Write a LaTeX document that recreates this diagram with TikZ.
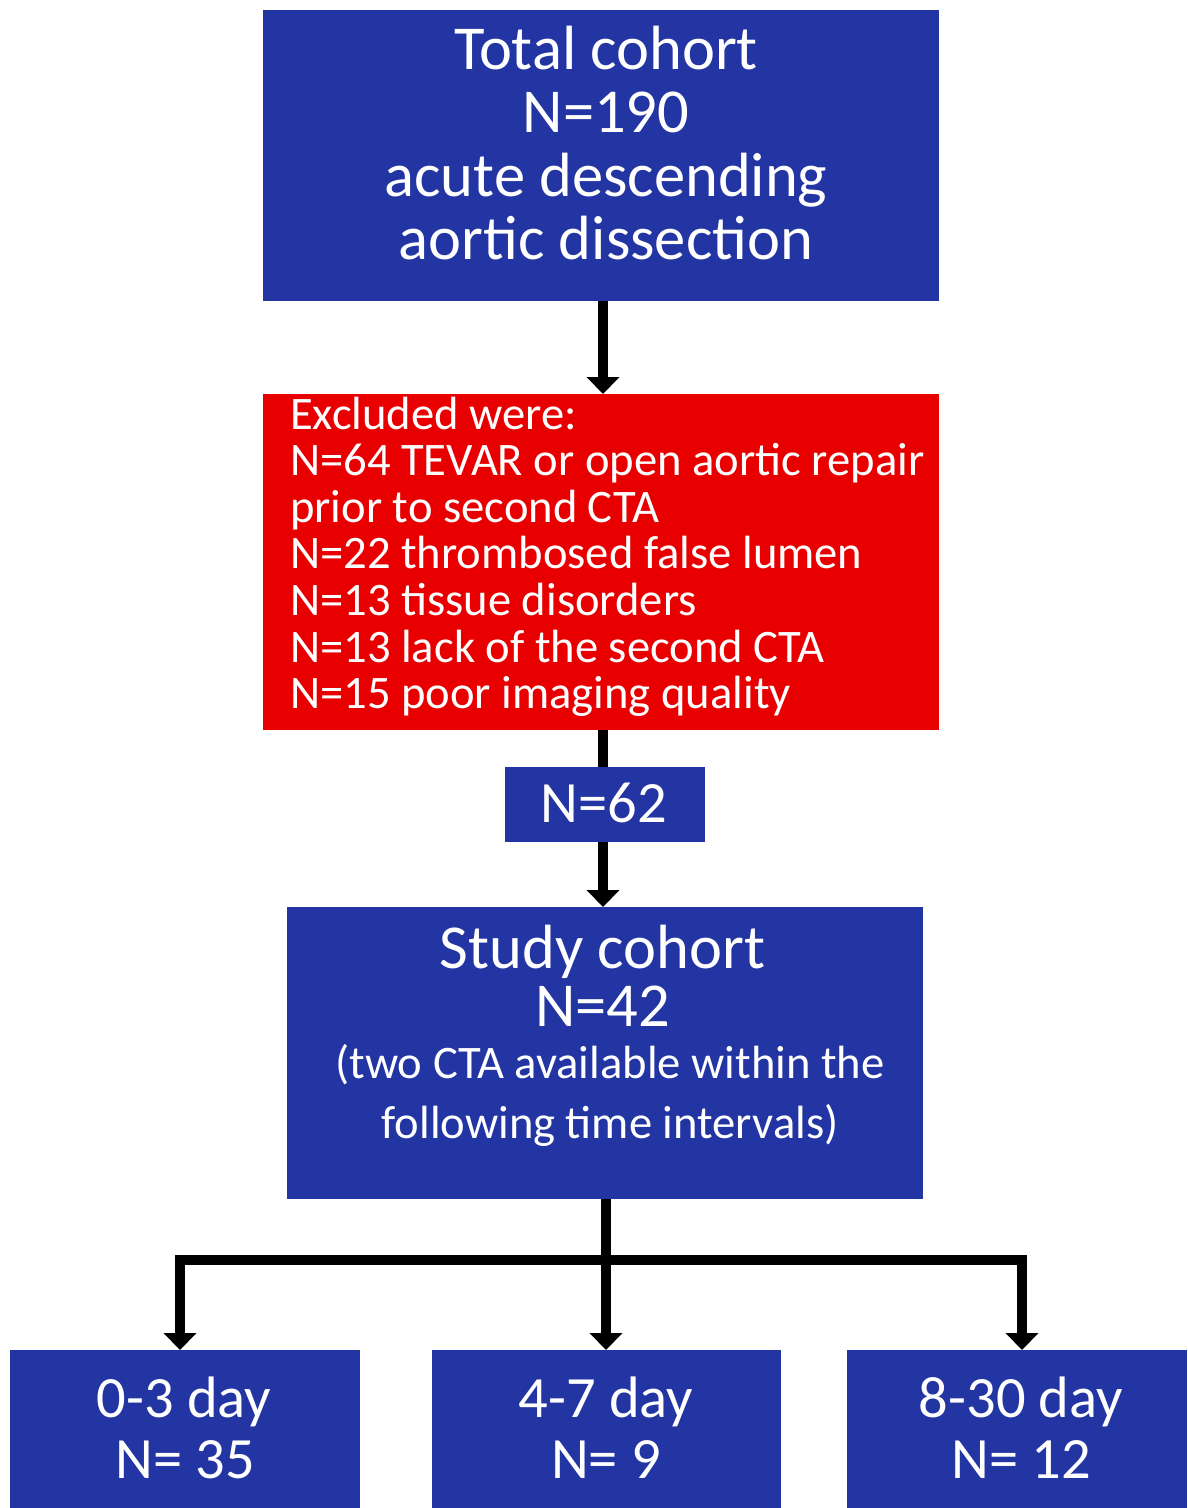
\documentclass[tikz,border=0pt]{standalone}
\usepackage{fontspec}
\setmainfont{Carlito}
\usetikzlibrary{arrows.meta}
\definecolor{cblue}{RGB}{35,53,163}
\definecolor{cred}{RGB}{232,0,0}
\tikzset{
  box/.style={fill=cblue, draw=none, inner sep=0pt, outer sep=0pt},
  redbox/.style={fill=cred, draw=none, inner sep=0pt, outer sep=0pt},
  big/.style={font=\fontsize{62.5}{63}\selectfont, text=white, inner sep=0pt},
  mid/.style={font=\fontsize{58.5}{60}\selectfont, text=white, inner sep=0pt},
  small/.style={font=\fontsize{46.6}{47}\selectfont, text=white, inner sep=0pt},
  conn/.style={line width=10pt, draw=black},
  tipd/.style={-{Triangle[width=32pt,length=17pt]}},
}
\begin{document}
\begin{tikzpicture}[x=1pt,y=-1pt]
\useasboundingbox (0,0) rectangle (1188,1508);
% boxes
\node[box, minimum width=676pt, minimum height=291pt] (total) at (601,155.5) {};
\node[redbox, minimum width=676pt, minimum height=336pt] (excl) at (601,562) {};
\node[box, minimum width=200pt, minimum height=75pt] (n62) at (605,804.5) {};
\node[box, minimum width=636pt, minimum height=292pt] (study) at (605,1053) {};
\node[box, minimum width=350pt, minimum height=158pt] (b1) at (185,1429) {};
\node[box, minimum width=349pt, minimum height=158pt] (b2) at (606.5,1429) {};
\node[box, minimum width=340pt, minimum height=158pt] (b3) at (1017,1429) {};
% texts
\node[big, anchor=base] (t1) at (606,69) {Total cohort};
\node[big, anchor=base] (t2) at (606,132) {N=190};
\node[big, anchor=base] (t3) at (606,196) {acute descending};
\node[big, anchor=base] (t4) at (606,259) {aortic dissection};
\node[small, anchor=base west] (e1) at (290,429) {Excluded were:};
\node[small, anchor=base west] (e2) at (290,475.6) {N=64 TEVAR or open aortic repair};
\node[small, anchor=base west] (e3) at (290,522.2) {prior to second CTA};
\node[small, anchor=base west] (e4) at (290,568.8) {N=22 thrombosed false lumen};
\node[small, anchor=base west] (e5) at (290,615.4) {N=13 tissue disorders};
\node[small, anchor=base west] (e6) at (290,662) {N=13 lack of the second CTA};
\node[small, anchor=base west] (e7) at (290,708.6) {N=15 poor imaging quality};
\node[mid, anchor=base] (n62t) at (604,822) {N=62};
\node[big, anchor=base] (s1) at (602.5,968) {Study cohort};
\node[big, anchor=base] (s2) at (602.5,1026) {N=42};
\node[small, anchor=base] (s3) at (610,1078) {(two CTA available within the};
\node[small, anchor=base] (s4) at (610,1138) {following time intervals)};
\node[mid, anchor=base] (b1a) at (184,1417) {0-3 day};
\node[mid, anchor=base] (b1b) at (185,1478) {N= 35};
\node[mid, anchor=base] (b2a) at (606,1417) {4-7 day};
\node[mid, anchor=base] (b2b) at (606,1478) {N= 9};
\node[mid, anchor=base] (b3a) at (1021,1417) {8-30 day};
\node[mid, anchor=base] (b3b) at (1021,1478) {N= 12};
% connectors
\coordinate (split) at (606,1260);
\coordinate (tipL) at (180,1350);
\coordinate (tipR) at (1022,1350);
\draw[conn, tipd] (total.south -| 603,0) -- (excl.north -| 603,0);
\draw[conn] (excl.south -| 603,0) -- (n62.north -| 603,0);
\draw[conn, tipd] (n62.south -| 603,0) -- (study.north -| 603,0);
\draw[conn, tipd] (study.south -| split) -- (b2.north -| split);
\draw[conn, {Triangle[width=32pt,length=17pt]}-{Triangle[width=32pt,length=17pt]}] (tipL) |- (split) -| (tipR);
\end{tikzpicture}
\end{document}
